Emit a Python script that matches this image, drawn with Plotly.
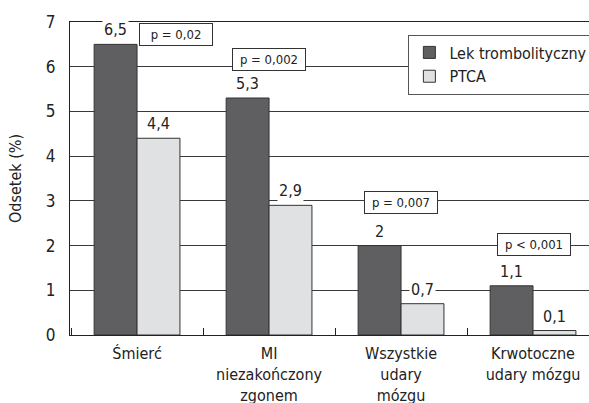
import plotly.graph_objects as go

categories = ["Śmierć", "MI<br>niezakończony<br>zgonem", "Wszystkie<br>udary<br>mózgu", "Krwotoczne<br>udary mózgu"]
lek = [6.5, 5.3, 2.0, 1.1]
ptca = [4.4, 2.9, 0.7, 0.1]
lek_labels = ["6,5", "5,3", "2", "1,1"]
ptca_labels = ["4,4", "2,9", "0,7", "0,1"]
p_values = ["p = 0,02", "p = 0,002", "p = 0,007", "p < 0,001"]
y_ticks = [0, 1, 2, 3, 4, 5, 6, 7]

FONT = "Liberation Sans Narrow, DejaVu Sans Condensed, Roboto Condensed, Arial Narrow, sans-serif"
TXT = "#222222"
BARGAP = 0.35

fig = go.Figure()
fig.add_trace(go.Bar(x=categories, y=lek, name="Lek trombolityczny",
                     marker=dict(color="#5f5f61", line=dict(color="#333333", width=1))))
fig.add_trace(go.Bar(x=categories, y=ptca, name="PTCA",
                     marker=dict(color="#e0e1e3", line=dict(color="#333333", width=1))))

half = (1 - BARGAP) / 4
anns = []
for i in range(len(categories)):
    anns.append(dict(x=i - half, y=lek[i], xref="x", yref="y", text=lek_labels[i],
                     showarrow=False, yanchor="bottom", yshift=3, bgcolor="white",
                     font=dict(size=16, color=TXT, family=FONT), borderpad=1))
    anns.append(dict(x=i + half, y=ptca[i], xref="x", yref="y", text=ptca_labels[i],
                     showarrow=False, yanchor="bottom", yshift=3, bgcolor="white",
                     font=dict(size=16, color=TXT, family=FONT), borderpad=1))

p_pos = [(0.295, 6.71), (1.0, 6.16), (2.0, 2.96), (3.01, 2.02)]
for txt, (px, py) in zip(p_values, p_pos):
    anns.append(dict(x=px, y=py, xref="x", yref="y", text=txt, showarrow=False,
                     bgcolor="white", bordercolor="#333333", borderwidth=1, borderpad=3,
                     width=66, font=dict(size=13, color=TXT, family=FONT)))

fig.update_layout(
    template="none",
    width=589, height=403,
    margin=dict(l=70, r=0, t=22, b=68, autoexpand=False),
    paper_bgcolor="white", plot_bgcolor="white",
    barmode="group", bargap=BARGAP, bargroupgap=0,
    font=dict(family=FONT, color=TXT, size=16),
    showlegend=True,
    legend=dict(x=0.652, y=0.96, xanchor="left", yanchor="top",
                bgcolor="white", bordercolor="#555555", borderwidth=1,
                font=dict(size=16, color=TXT, family=FONT), tracegroupgap=0,
                itemwidth=30),
    annotations=anns,
    xaxis=dict(range=[-0.508, 3.424], showline=True, linecolor="#222222", linewidth=1,
               mirror=True, ticks="inside", tickson="boundaries", ticklen=7,
               tickcolor="#222222", showgrid=False, ticklabelstandoff=4, automargin=False,
               tickfont=dict(size=16, color=TXT, family=FONT)),
    yaxis=dict(range=[0, 7], tickvals=y_ticks, showline=True, linecolor="#222222",
               linewidth=1, showgrid=True, gridcolor="#3a3a3a", gridwidth=1,
               zeroline=False, ticks="", ticklabelstandoff=10, automargin=False,
               tickfont=dict(size=17, color=TXT, family=FONT),
               title=dict(text="Odsetek (%)", font=dict(size=16, color=TXT, family=FONT),
                          standoff=20)),
)

fig.write_html("out.html", config={"displayModeBar": False},
               post_script="document.body.style.margin='0';")
